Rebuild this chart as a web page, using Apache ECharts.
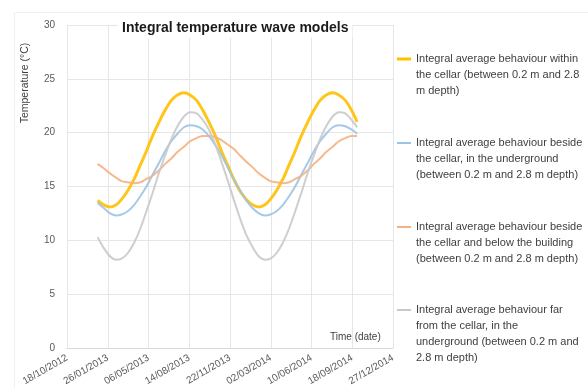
<!DOCTYPE html>
<html>
<head>
<meta charset="utf-8">
<script src="https://cdn.jsdelivr.net/npm/echarts@6/dist/echarts.min.js"></script>
<style>html,body{margin:0;padding:0;background:#fff;}#c{width:588px;height:388px;}</style>
</head>
<body>
<div id="c"></div>
<script>
// Excel serial dates (days since 30/12/1899): 1st and 16th of each month, Jan 2013 .. Sep 2014
var dates = [41275,41290,41306,41321,41334,41349,41365,41380,41395,41410,41426,41441,41456,41471,41487,41502,41518,41533,41548,41563,41579,41594,41609,41624,41640,41655,41671,41686,41699,41714,41730,41745,41760,41775,41791,41806,41821,41836,41852,41867,41883,41898,41912];
var withinCellar = [13.7,13.3,13.1,13.3,13.8,14.6,15.7,17.0,18.3,19.7,21.0,22.1,23.0,23.5,23.7,23.5,23.0,22.1,21.0,19.8,18.3,17.0,15.7,14.6,13.8,13.3,13.1,13.3,13.8,14.6,15.7,17.0,18.3,19.7,21.0,22.1,23.0,23.5,23.7,23.5,23.0,22.1,21.0];
var besideUnderground = [13.5,13.0,12.5,12.3,12.4,12.7,13.3,14.1,15.0,16.1,17.2,18.3,19.2,19.9,20.5,20.7,20.6,20.3,19.7,18.9,17.9,16.8,15.7,14.7,13.7,13.0,12.5,12.3,12.4,12.7,13.3,14.1,15.0,16.1,17.2,18.3,19.2,19.9,20.5,20.7,20.6,20.3,19.9];
var besideBelowBuilding = [17.1,16.7,16.2,15.8,15.5,15.4,15.3,15.4,15.7,16.0,16.5,17.1,17.6,18.2,18.7,19.2,19.5,19.7,19.7,19.6,19.3,18.9,18.5,17.9,17.3,16.8,16.2,15.8,15.5,15.4,15.3,15.4,15.7,16.0,16.5,17.1,17.6,18.2,18.7,19.2,19.5,19.7,19.7];
var farUnderground = [10.3,9.3,8.5,8.2,8.3,8.8,9.8,11.1,12.7,14.4,16.3,17.9,19.4,20.6,21.5,21.9,21.8,21.2,20.3,19.0,17.3,15.6,13.8,12.1,10.5,9.4,8.5,8.2,8.3,8.8,9.8,11.1,12.7,14.4,16.3,17.9,19.4,20.6,21.5,21.9,21.8,21.2,20.5];
var seriesNames = [
  "Integral average behaviour within\nthe cellar (between 0.2 m and 2.8\nm depth)",
  "Integral average behaviour beside\nthe cellar, in the underground\n(between 0.2 m and 2.8 m depth)",
  "Integral average behaviour beside\nthe cellar and below the building\n(between 0.2 m and 2.8 m depth)",
  "Integral average behaviour far\nfrom the cellar, in the\nunderground (between 0.2 m and\n2.8 m depth)"
];
var xMin = 41200, xMax = 42000, xStep = 100; // 18/10/2012 .. 27/12/2014
var yMin = 0, yMax = 30, yStep = 5;
var titleText = "Integral temperature wave models";
var yTitle = "Temperature (°C)";
var xTitle = "Time (date)";

function pairs(vals){ return dates.map(function(d,i){ return [d, vals[i]]; }); }
function fmtDate(serial){
  var d = new Date(Date.UTC(1899,11,30) + Math.round(serial)*86400000);
  var dd = ('0'+d.getUTCDate()).slice(-2), mm = ('0'+(d.getUTCMonth()+1)).slice(-2);
  return dd + '/' + mm + '/' + d.getUTCFullYear();
}
var colors = ['#FFC000', '#9DC3E6', '#F4B183', '#C9C9C9'];
var widths = [3, 2, 2, 2];
var allVals = [withinCellar, besideUnderground, besideBelowBuilding, farUnderground];
var FONT = 'Liberation Sans';

// legend: one component per entry; blank lines above the text put the
// (vertically centred) icon level with the first text line
var legendTops = [19, 103, 187, 254];
var legends = seriesNames.map(function(n, i){
  var nLines = n.split('\n').length;
  return {
    orient: 'vertical', left: 397, top: legendTops[i], padding: 0,
    itemWidth: 14, itemHeight: widths[i], selectedMode: false,
    formatter: function(name){ return new Array(nLines).join('\n') + name; },
    textStyle: { fontSize: 11, color: '#404040', lineHeight: 16, fontFamily: FONT },
    data: [{ name: n, icon: 'rect', itemStyle: { color: colors[i] } }]
  };
});

var chart = echarts.init(document.getElementById('c'), null, {renderer:'canvas'});
chart.setOption({
  animation: false,
  backgroundColor: '#fff',
  textStyle: { fontFamily: FONT },
  grid: { left: 67, top: 25, right: 195, bottom: 40, containLabel: false },
  xAxis: {
    type: 'value', min: xMin, max: xMax, interval: xStep,
    axisLine: { show: true, lineStyle: { color: '#D9D9D9' } },
    axisTick: { show: false },
    splitLine: { show: true, lineStyle: { color: '#E6E6E6' } },
    axisLabel: { rotate: 30, fontSize: 10, color: '#595959', margin: 9, formatter: fmtDate, fontFamily: FONT }
  },
  yAxis: {
    type: 'value', min: yMin, max: yMax, interval: yStep,
    axisLine: { show: false }, axisTick: { show: false },
    splitLine: { show: true, lineStyle: { color: '#E6E6E6' } },
    axisLabel: { fontSize: 10, color: '#595959', margin: 12, fontFamily: FONT }
  },
  legend: legends,
  graphic: [
    { type: 'rect', left: 12, top: 10, shape: { width: 600, height: 400 }, style: { fill: 'none', stroke: '#EFEFEF', lineWidth: 1 }, silent: true, z: -10 },
    { type: 'text', x: 118, y: 18, z: 100,
      style: { text: titleText, font: 'bold 14px ' + FONT, fill: '#1a1a1a', backgroundColor: '#fff', padding: [3, 4] } },
    { type: 'text', x: 25, y: 83, rotation: Math.PI/2, z: 100,
      style: { text: yTitle, font: '10.5px ' + FONT, fill: '#404040', align: 'center', verticalAlign: 'middle' } },
    { type: 'text', x: 330, y: 332, z: 100,
      style: { text: xTitle, font: '10px ' + FONT, fill: '#404040' } }
  ],
  series: allVals.map(function(vals, i){
    return {
      name: seriesNames[i], type: 'line', data: pairs(vals), smooth: 0.3,
      showSymbol: false, symbol: 'none',
      lineStyle: { color: colors[i], width: widths[i], opacity: 0.9 },
      itemStyle: { color: colors[i] }
    };
  })
});
</script>
</body>
</html>
